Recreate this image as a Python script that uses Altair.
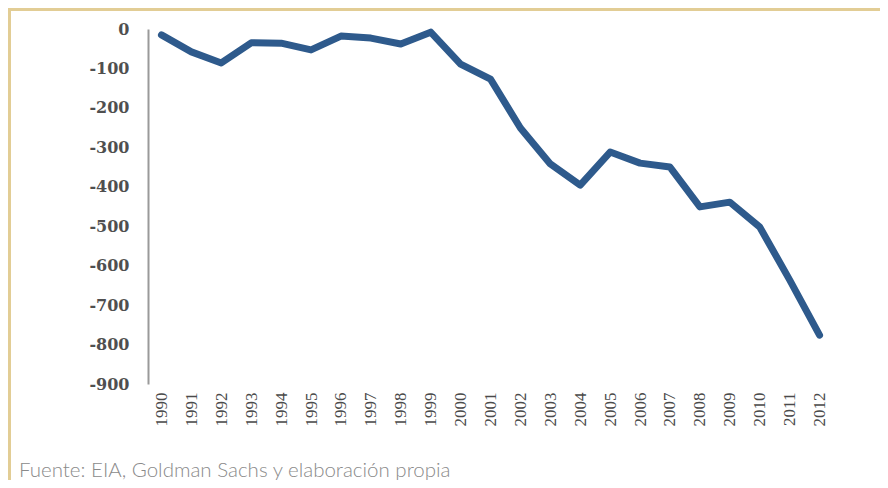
import altair as alt
import pandas as pd

# ---- data ----
years = ["1990", "1991", "1992", "1993", "1994", "1995", "1996", "1997",
         "1998", "1999", "2000", "2001", "2002", "2003", "2004", "2005",
         "2006", "2007", "2008", "2009", "2010", "2011", "2012"]
values = [-15, -58, -86, -35, -36, -53, -18, -23, -38, -8, -89, -127,
          -251, -342, -396, -312, -340, -350, -451, -439, -502, -636, -776]
y_ticks = [0, -100, -200, -300, -400, -500, -600, -700, -800, -900]
source_note = "Fuente: EIA, Goldman Sachs y elaboración propia"

df = pd.DataFrame({"year": years, "value": values})

PLOT_W = 685
PLOT_H = 355
PAD = {"left": 140, "top": 21, "right": 47, "bottom": 96}
TOTAL_W = PAD["left"] + PLOT_W + PAD["right"]
TOTAL_H = PAD["top"] + PLOT_H + PAD["bottom"]
BORDER = "#E2CD95"

line = alt.Chart(df).mark_line(
    color="#2E5A8C", strokeWidth=7, strokeJoin="round", strokeCap="round"
).encode(
    x=alt.X("year:O", sort=years,
            scale=alt.Scale(type="point", padding=0.45),
            axis=alt.Axis(title=None, labelAngle=270, domain=False, ticks=False,
                          labelFont="Liberation Serif", labelFontSize=17,
                          labelColor="#4a4a4a", labelPadding=8)),
    y=alt.Y("value:Q",
            scale=alt.Scale(domain=[-900, 0], nice=False, zero=False),
            axis=alt.Axis(title=None, values=y_ticks, grid=False, ticks=False,
                          labelExpr="toString(datum.value)",
                          domainColor="#9a9a9a", domainWidth=2,
                          labelFont="DejaVu Serif", labelFontSize=16,
                          labelFontWeight="bold", labelColor="#4f4f4f",
                          labelPadding=19)),
)

one = alt.Data(values=[{}])

top_border = alt.Chart(one).mark_rule(color=BORDER, strokeWidth=3).encode(
    x=alt.value(-PAD["left"]), x2=alt.value(TOTAL_W - PAD["left"]),
    y=alt.value(-PAD["top"] + 1.5),
)
left_border = alt.Chart(one).mark_rule(color=BORDER, strokeWidth=3).encode(
    x=alt.value(-PAD["left"] + 1.5),
    y=alt.value(-PAD["top"]), y2=alt.value(TOTAL_H - PAD["top"]),
)
note = alt.Chart(one).mark_text(
    align="left", baseline="alphabetic", font="Lato", fontWeight=300,
    fontSize=20.5, color="#8a8a8a"
).encode(
    x=alt.value(19 - 148), y=alt.value(477 - 29), text=alt.value(source_note)
)

chart = alt.layer(top_border, left_border, line, note).properties(
    width=PLOT_W, height=PLOT_H,
    autosize=alt.AutoSizeParams(type="none"),
    padding=PAD,
    background="white",
).configure_view(stroke=None)

chart.save("out.html", embed_options={"renderer": "svg", "actions": False})
